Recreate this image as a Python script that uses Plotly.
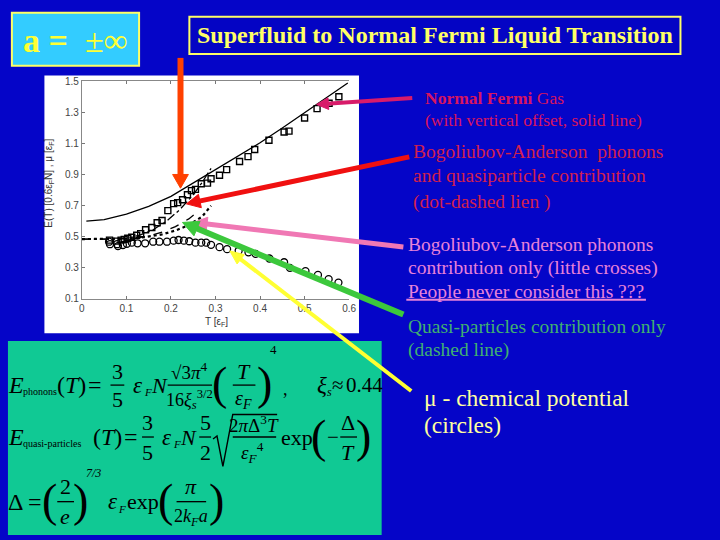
import plotly.graph_objects as go

# ---------------- data ----------------
T_sq = [0.062, 0.078, 0.088, 0.095, 0.103, 0.112, 0.123, 0.132, 0.143, 0.157, 0.169, 0.180,
        0.193, 0.206, 0.215, 0.226, 0.237, 0.246, 0.255, 0.268, 0.282, 0.290, 0.309, 0.325,
        0.354, 0.373, 0.388, 0.420, 0.454, 0.465, 0.500, 0.528, 0.555, 0.577]
E_sq = [0.478, 0.472, 0.478, 0.483, 0.490, 0.497, 0.510, 0.520, 0.545, 0.560, 0.590, 0.605,
        0.668, 0.713, 0.720, 0.738, 0.770, 0.797, 0.805, 0.841, 0.845, 0.873, 0.896, 0.932,
        0.984, 1.016, 1.062, 1.121, 1.174, 1.180, 1.264, 1.325, 1.359, 1.401]

T_mu = [0.061, 0.063, 0.079, 0.081, 0.092, 0.101, 0.112, 0.125, 0.142, 0.160, 0.174, 0.191,
        0.206, 0.217, 0.229, 0.241, 0.255, 0.268, 0.279, 0.290, 0.309, 0.326, 0.352, 0.374,
        0.390, 0.421, 0.454, 0.467, 0.502, 0.530, 0.554, 0.576]
mu = [0.468, 0.452, 0.452, 0.440, 0.447, 0.455, 0.462, 0.458, 0.458, 0.468, 0.468, 0.468,
      0.475, 0.479, 0.475, 0.471, 0.462, 0.462, 0.462, 0.448, 0.433, 0.420, 0.410, 0.400,
      0.390, 0.360, 0.336, 0.300, 0.279, 0.254, 0.227, 0.205]

T_nf = [0.01, 0.05, 0.10, 0.15, 0.20, 0.25, 0.30, 0.35, 0.40, 0.45, 0.50, 0.55, 0.597]
E_nf = [0.600, 0.610, 0.645, 0.695, 0.760, 0.845, 0.930, 1.015, 1.105, 1.200, 1.300, 1.400, 1.490]

T_bq = [0.0, 0.06, 0.10, 0.13, 0.16, 0.19, 0.22, 0.25, 0.27, 0.29]
E_bq = [0.485, 0.485, 0.490, 0.510, 0.545, 0.600, 0.675, 0.770, 0.850, 0.940]

T_q = [0.0, 0.08, 0.12, 0.15, 0.18, 0.21, 0.24, 0.26]
E_q = [0.485, 0.485, 0.490, 0.505, 0.530, 0.565, 0.615, 0.660]

T_ph = [0.0, 0.05, 0.10, 0.14, 0.18, 0.21, 0.24, 0.27, 0.29]
E_ph = [0.485, 0.485, 0.488, 0.497, 0.515, 0.540, 0.575, 0.630, 0.700]

x_ticks = [0, 0.1, 0.2, 0.3, 0.4, 0.5, 0.6]
x_labels = ["0", "0.1", "0.2", "0.3", "0.4", "0.5", "0.6"]
y_ticks = [0.1, 0.3, 0.5, 0.7, 0.9, 1.1, 1.3, 1.5]
y_labels = ["0.1", "0.3", "0.5", "0.7", "0.9", "1.1", "1.3", "1.5"]

# ---------------- helpers ----------------
W, H = 720, 540
BG = "#0505C8"
SERIF = "Liberation Serif, Times New Roman, serif"
SANS = "Liberation Sans, Arial, sans-serif"


def X(px):
    return px / W


def Y(py):
    return 1 - py / H


annotations = []
shapes = []


def txt(px, py, s, size, anchor="left", color="black", family=SERIF, angle=0):
    annotations.append(dict(x=X(px), y=Y(py), xref="paper", yref="paper", text=s,
                            showarrow=False, xanchor=anchor, yanchor="middle",
                            textangle=angle,
                            font=dict(family=family, size=size, color=color)))


def hline(x0, x1, y, color="black", w=1.3):
    shapes.append(dict(type="line", xref="paper", yref="paper", x0=X(x0), x1=X(x1),
                       y0=Y(y), y1=Y(y), line=dict(color=color, width=w), layer="above"))


def rect(x0, y0, x1, y1, fill, border=None, bw=0, layer="below"):
    shapes.append(dict(type="rect", xref="paper", yref="paper", x0=X(x0), x1=X(x1),
                       y0=Y(y1), y1=Y(y0), fillcolor=fill,
                       line=dict(color=border if border else fill, width=bw), layer=layer))


def arrow(xt, yt, xh, yh, color, w, hl, hw):
    dx, dy = xh - xt, yh - yt
    L = (dx * dx + dy * dy) ** 0.5
    ux, uy = dx / L, dy / L
    nx, ny = -uy, ux
    bx, by = xh - ux * hl, yh - uy * hl
    shapes.append(dict(type="line", xref="paper", yref="paper", x0=X(xt), y0=Y(yt),
                       x1=X(bx + ux * 2), y1=Y(by + uy * 2),
                       line=dict(color=color, width=w), layer="above"))
    p1 = (bx + nx * hw / 2, by + ny * hw / 2)
    p2 = (bx - nx * hw / 2, by - ny * hw / 2)
    path = "M %.5f,%.5f L %.5f,%.5f L %.5f,%.5f Z" % (X(xh), Y(yh), X(p1[0]), Y(p1[1]),
                                                      X(p2[0]), Y(p2[1]))
    shapes.append(dict(type="path", xref="paper", yref="paper", path=path,
                       fillcolor=color, line=dict(color=color, width=1), layer="above"))


# ---------------- figure ----------------
fig = go.Figure()
fig.add_trace(go.Scatter(x=T_nf, y=E_nf, mode="lines", line=dict(color="black", width=1.3)))
fig.add_trace(go.Scatter(x=T_bq, y=E_bq, mode="lines",
                         line=dict(color="black", width=1.3, dash="dashdot")))
fig.add_trace(go.Scatter(x=T_q, y=E_q, mode="lines",
                         line=dict(color="black", width=1.3, dash="dash")))
fig.add_trace(go.Scatter(x=T_ph, y=E_ph, mode="lines",
                         line=dict(color="black", width=2.2, dash="dot")))
fig.add_trace(go.Scatter(x=T_sq, y=E_sq, mode="markers",
                         marker=dict(symbol="square-open", size=6, color="black",
                                     line=dict(width=1.4, color="black"))))
fig.add_trace(go.Scatter(x=T_mu, y=mu, mode="markers",
                         marker=dict(symbol="circle-open", size=7, color="black",
                                     line=dict(width=1.3, color="black"))))

# panels
rect(42, 72, 361, 335, "white")
rect(5, 343, 384, 541, "#10C994")
rect(9, 8, 138, 62, "#33CCFF", "#FFFF66", 2)
rect(189, 12, 687, 50, "#0404C4", "#FFFF66", 2)

# header texts
txt(74, 36, "<b>a =</b>\u00a0\u00a0±∞", 34, "center", "#FFFF33")
txt(438, 31, "<b>Superfluid to Normal Fermi Liquid Transition</b>", 24, "center", "#FFFF66")

# axis titles
txt(47, 182, "E(T) [0.6ε<sub>F</sub>N] , μ [ε<sub>F</sub>]", 10, "center", "#333", SANS, -90)
txt(216, 324, "T [ε<sub>F</sub>]", 10, "center", "#333", SANS)

# right side texts
CR = "#D8155F"
txt(426, 95, "<b>Normal Fermi</b> Gas", 17.5, "left", CR)
txt(426, 117, "(with vertical offset, solid line)", 17.5, "left", CR)
C2 = "#D2204E"
txt(414, 150, "Bogoliubov-Anderson\u00a0 phonons", 19.5, "left", C2)
txt(414, 174, "and quasiparticle contribution", 19.5, "left", C2)
txt(414, 201, "(dot-dashed lien )", 19.5, "left", C2)
C3 = "#E882D8"
txt(409, 244, "Bogoliubov-Anderson phonons", 19.5, "left", C3)
txt(409, 268, "contribution only (little crosses)", 19.5, "left", C3)
txt(409, 292, "People never consider this ???", 19.5, "left", C3)
hline(409, 652, 301, C3, 2)
C4 = "#40B070"
txt(409, 328, "Quasi-particles contribution only", 19.5, "left", C4)
txt(409, 352, "(dashed line)", 19.5, "left", C4)
C5 = "#FFFFA0"
txt(425, 401, "μ - chemical potential", 23.5, "left", C5)
txt(425, 429, "(circles)", 23.5, "left", C5)

# ---------------- formulas (green panel) ----------------
# row 1
r = 388
txt(3, r, "<i>E</i>", 24)
txt(18, r + 7, "phonons", 10)
txt(53, r, "(<i>T</i>)", 24)
txt(84, r, "=", 24)
txt(116, r - 14, "3", 22, "center"); hline(109, 123, r); txt(116, r + 15, "5", 22, "center")
txt(130, r, "<i>ε</i>", 23); txt(141, r + 7, "<i>F</i>", 11); txt(148, r, "<i>N</i>", 22)
txt(189, r - 14, "√3<i>π</i><sup>4</sup>", 19, "center"); hline(167, 212, r)
txt(189, r + 15, "16<i>ξ</i><sub><i>s</i></sub><sup>3/2</sup>", 18, "center")
txt(220, r - 2, "(", 46, "center")
txt(244, r - 14, "<i>T</i>", 22, "center"); hline(233, 256, r)
txt(244, r + 15, "<i>ε</i><sub><i>F</i></sub>", 20, "center")
txt(265, r - 2, ")", 46, "center")
txt(274, 352, "4", 13, "center")
txt(286, r + 4, ",", 18, "center")
txt(316, r, "<i>ξ</i>", 23); txt(327, r + 7, "<i>s</i>", 12)
txt(332, r, "≈", 21); txt(346, r, "0.44", 21)

# row 2
r = 441
txt(3, r, "<i>E</i>", 24)
txt(18, r + 7, "quasi-particles", 10)
txt(89, r, "(<i>T</i>)", 24)
txt(121, r, "=", 24)
txt(147, r - 15, "3", 22, "center"); hline(141, 153, r); txt(147, r + 16, "5", 22, "center")
txt(159, r, "<i>ε</i>", 23); txt(170, r + 7, "<i>F</i>", 11); txt(177, r, "<i>N</i>", 22)
txt(205, r - 15, "5", 22, "center"); hline(199, 211, r); txt(205, r + 16, "2", 22, "center")
rad = [(213, 443), (217, 440), (223, 471), (233, 418), (278, 418)]
shapes.append(dict(type="path", xref="paper", yref="paper",
                   path="M " + " L ".join("%.5f,%.5f" % (X(a), Y(b)) for a, b in rad),
                   line=dict(color="black", width=1.4), layer="above"))
txt(255, r - 13, "2<i>π</i>Δ<sup>3</sup><i>T</i>", 19, "center"); hline(233, 277, r)
txt(253, r + 16, "<i>ε</i><sub><i>F</i></sub><sup>4</sup>", 19, "center")
txt(280, r, "exp", 22)
txt(320, r - 1, "(", 46, "center")
txt(335, r, "−", 21, "center")
txt(350, r - 15, "Δ", 22, "center"); hline(342, 359, r); txt(350, r + 16, "<i>T</i>", 22, "center")
txt(366, r - 1, ")", 46, "center")

# row 3
r = 507
txt(3, r, "Δ =", 24)
txt(47, r - 1, "(", 46, "center")
txt(63, r - 15, "2", 22, "center"); hline(55, 72, r); txt(63, r + 15, "<i>e</i>", 22, "center")
txt(79, r - 1, ")", 46, "center")
txt(92, 478, "<i>7/3</i>", 12, "center")
txt(104, r, "<i>ε</i>", 23); txt(115, r + 7, "<i>F</i>", 11)
txt(124, r, "exp", 22)
txt(165, r - 1, "(", 46, "center")
txt(191, r - 15, "<i>π</i>", 22, "center"); hline(176, 206, r)
txt(191, r + 16, "2<i>k</i><sub><i>F</i></sub><i>a</i>", 18, "center")
txt(216, r - 1, ")", 46, "center")

# ---------------- arrows ----------------
arrow(180, 54, 180, 187, "#FF4000", 6, 14, 16)
arrow(415, 95, 318, 101.5, "#D81B6A", 4, 12, 12)
arrow(412, 155, 186, 203, "#F01010", 5, 14, 14)
arrow(406, 247, 193, 222, "#F078B4", 5, 14, 14)
arrow(406, 316, 182, 222, "#3CC83C", 6, 16, 16)
arrow(414, 394, 230, 251, "#FFFF33", 4, 14, 12)

axis_font = dict(family=SANS, size=10, color="#444")
fig.update_layout(
    width=W, height=H, autosize=False,
    margin=dict(l=0, r=0, t=0, b=0),
    paper_bgcolor=BG, plot_bgcolor="white", showlegend=False,
    xaxis=dict(domain=[80 / W, 351 / W], range=[0, 0.6], tickvals=x_ticks, ticktext=x_labels,
               ticks="inside", ticklen=3, tickcolor="#777", showline=True, linecolor="#888",
               linewidth=1, mirror="ticks", showgrid=False, zeroline=False, tickfont=axis_font),
    yaxis=dict(domain=[Y(300), Y(78)], range=[0.1, 1.5], tickvals=y_ticks, ticktext=y_labels,
               ticks="inside", ticklen=3, tickcolor="#777", showline=True, linecolor="#888",
               linewidth=1, showgrid=False, zeroline=False, tickfont=axis_font),
    annotations=annotations, shapes=shapes,
)

fig.write_html(
    "out.html",
    config={"displayModeBar": False},
    post_script=("document.body.style.margin='0px';"
                 "document.body.style.overflow='hidden';"
                 "document.documentElement.style.overflow='hidden';"),
)
